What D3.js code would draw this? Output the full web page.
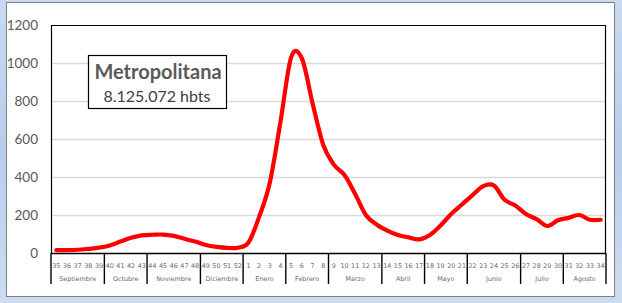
<!DOCTYPE html>
<html>
<head>
<meta charset="utf-8">
<script src="https://cdn.jsdelivr.net/npm/d3@7"></script>
<style>
  html, body { margin: 0; padding: 0; }
  body { width: 622px; height: 303px; overflow: hidden;
         background: linear-gradient(180deg, #c9d9f1 0%, #b9cdec 50%, #cddcf2 100%); }
</style>
</head>
<body>
<div id="chart"></div>
<script>
// weekly cases, epi weeks 35-52 then 1-34
const weeks = [35, 36, 37, 38, 39, 40, 41, 42, 43, 44, 45, 46, 47, 48, 49, 50, 51, 52,
  1, 2, 3, 4, 5, 6, 7, 8, 9, 10, 11, 12, 13, 14, 15, 16, 17, 18, 19, 20, 21, 22, 23, 24, 25, 26,
  27, 28, 29, 30, 31, 32, 33, 34]
const cases = [15, 15, 17, 22, 28, 40, 60, 80, 93, 96, 97, 90, 75, 60, 42, 32, 27, 28,
  55, 190, 370, 690, 1030, 1025, 790, 570, 465, 410, 310, 200, 150, 118, 95, 82, 72,
  95, 145, 205, 255, 305, 352, 355, 280, 250, 205, 178, 142, 172, 185, 200, 175, 175]
const months = ["Septiembre", "Octubre", "Noviembre", "Diciembre", "Enero", "Febrero",
  "Marzo", "Abril", "Mayo", "Junio", "Julio", "Agosto"]
const weeksPerMonth = [5, 4, 5, 4, 4, 4, 5, 4, 4, 5, 4, 4]
const yTicks = [0, 200, 400, 600, 800, 1000, 1200]
const regionName = "Metropolitana"
const population = "8.125.072 hbts"

const width = 622
const height = 303
const plot = { left: 51, right: 606, top: 25, bottom: 253 }

const svg = d3.select("#chart")
  .append("svg")
  .attr("width", width)
  .attr("height", height)

// chart area frame
svg.append("rect")
  .attr("x", 6.5).attr("y", 2.5)
  .attr("width", 608).attr("height", 294)
  .attr("fill", "#fff")
  .attr("stroke", "#7f7f7f")

const x = d3.scaleBand()
  .domain(d3.range(weeks.length))
  .range([plot.left, plot.right])

const y = d3.scaleLinear()
  .domain([0, 1200])
  .range([plot.bottom, plot.top])

// gridlines
svg.append("g")
  .selectAll("line")
  .data(yTicks.filter(d => d > 0 && d < 1200))
  .enter()
  .append("line")
  .attr("x1", plot.left).attr("x2", plot.right)
  .attr("y1", d => Math.round(y(d)) + 0.5).attr("y2", d => Math.round(y(d)) + 0.5)
  .attr("stroke", "#d9d9d9")
  .attr("stroke-width", 1.3)

// y labels
const yAxis = svg.append("g")
  .attr("transform", `translate(38,0)`)
  .call(d3.axisLeft(y).tickValues(yTicks).tickSize(0).tickPadding(0).tickFormat(d3.format("d")))
yAxis.select(".domain").remove()
yAxis.selectAll("text")
  .attr("fill", "#595959")
  .style("font-family", "Lato, 'Open Sans', sans-serif")
  .style("font-size", "13.5px")

// plot frame (top, left, right)
svg.append("path")
  .attr("d", `M${plot.left + 0.5},${plot.bottom} V${plot.top + 0.5} H${plot.right - 0.5} V${plot.bottom}`)
  .attr("fill", "none")
  .attr("stroke", "#000")
  .attr("stroke-width", 1.2)

// category axis: week numbers
const xAxis = svg.append("g")
  .attr("transform", `translate(0,${plot.bottom})`)
  .call(d3.axisBottom(x).tickSize(0).tickPadding(10).tickFormat(i => weeks[i]))
xAxis.select(".domain").remove()
xAxis.selectAll("text")
  .attr("fill", "#6a6a6a")
  .style("font-family", "'DejaVu Sans', sans-serif")
  .style("font-size", "6.4px")

svg.append("line")
  .attr("x1", plot.left).attr("x2", plot.right)
  .attr("y1", plot.bottom + 0.5).attr("y2", plot.bottom + 0.5)
  .attr("stroke", "#000")
  .attr("stroke-width", 1.4)

// month groups
let start = 0
const groups = weeksPerMonth.map((n, k) => {
  const g = { name: months[k], from: start, to: start + n }
  start += n
  return g
})
const bounds = [0].concat(groups.map(g => g.to))

svg.append("g")
  .selectAll("line")
  .data(bounds)
  .enter()
  .append("line")
  .attr("x1", i => i === weeks.length ? plot.right : x(i))
  .attr("x2", i => i === weeks.length ? plot.right : x(i))
  .attr("y1", plot.bottom)
  .attr("y2", plot.bottom + 31)
  .attr("stroke", "#000")
  .attr("stroke-width", 1.4)

svg.append("g")
  .selectAll("text")
  .data(groups)
  .enter()
  .append("text")
  .attr("x", g => (x(g.from) + (g.to === weeks.length ? plot.right : x(g.to))) / 2)
  .attr("y", plot.bottom + 28)
  .attr("text-anchor", "middle")
  .attr("fill", "#6a6a6a")
  .style("font-family", "'DejaVu Sans', sans-serif")
  .style("font-size", "6.4px")
  .text(g => g.name)

// series line
const line = d3.line()
  .x((d, i) => x(i) + x.bandwidth() / 2)
  .y(d => y(d))
  .curve(d3.curveCatmullRom.alpha(0))

svg.append("path")
  .datum(cases)
  .attr("d", line)
  .attr("fill", "none")
  .attr("stroke", "#ff0000")
  .attr("stroke-width", 4.2)
  .attr("stroke-linejoin", "round")
  .attr("stroke-linecap", "round")

// region label box
svg.append("rect")
  .attr("x", 88.5).attr("y", 55.5)
  .attr("width", 138).attr("height", 53)
  .attr("fill", "#fff")
  .attr("stroke", "#000")
  .attr("stroke-width", 1.2)

svg.append("text")
  .attr("x", 158).attr("y", 79)
  .attr("text-anchor", "middle")
  .attr("fill", "#595959")
  .style("font-family", "Lato, 'Open Sans', sans-serif")
  .style("font-weight", "bold")
  .style("font-size", "20px")
  .text(regionName)

svg.append("text")
  .attr("x", 157).attr("y", 102)
  .attr("text-anchor", "middle")
  .attr("fill", "#404040")
  .style("font-family", "Lato, 'Open Sans', sans-serif")
  .style("font-size", "16px")
  .text(population)
</script>
</body>
</html>
